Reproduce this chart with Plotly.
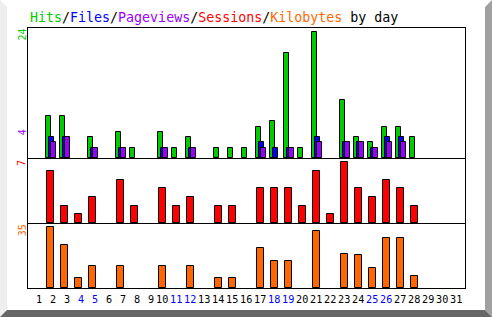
import plotly.graph_objects as go

# ---------------- data ----------------
days = list(range(1, 32))
weekend_days = [4, 5, 11, 12, 18, 19, 25, 26]
hits = [0, 8, 8, 0, 4, 0, 5, 2, 0, 5, 2, 4, 0, 2, 2, 2, 6, 7, 20, 2, 24, 0, 11, 4, 3, 6, 6, 4, 0, 0, 0]
files = [0, 4, 4, 0, 2, 0, 2, 0, 0, 2, 0, 2, 0, 0, 0, 0, 3, 2, 2, 0, 4, 0, 3, 3, 2, 4, 4, 0, 0, 0, 0]
pageviews = [0, 3, 4, 0, 2, 0, 2, 0, 0, 2, 0, 2, 0, 0, 0, 0, 2, 0, 2, 0, 3, 0, 3, 3, 2, 3, 3, 0, 0, 0, 0]
sessions = [0, 6, 2, 1, 3, 0, 5, 2, 0, 4, 2, 3, 0, 2, 2, 0, 4, 4, 4, 2, 6, 1, 7, 4, 3, 5, 4, 2, 0, 0, 0]
kilobytes = [0, 35, 24.6, 5.8, 12.5, 0, 12.5, 0, 0, 12.5, 0, 12.5, 0, 5.8, 5.8, 0,
             22.9, 15.4, 15.4, 0, 32.9, 0, 19.4, 18.9, 11.4, 28.7, 28.7, 6.7, 0, 0, 0]
max_labels = {"hits": "24", "pages": "4", "sessions": "7", "kbytes": "35"}

# ---------------- style ----------------
W, H = 492, 317
L, R, T, B = 28, 27, 28, 29
PW, PH = W - L - R, H - T - B
C_HIT, C_FILE, C_PAGE, C_SESS, C_KB = "#00cc00", "#0000ff", "#9900ff", "#ff0000", "#ff6600"
MONO = "DejaVu Sans Mono"


def X(px):
    return (px - L) / PW


def Y(py):
    return (H - B - py) / PH


def nz(v):
    return [x if x else None for x in v]


fig = go.Figure()
line = dict(color="black", width=1)
fig.add_trace(go.Bar(x=days, y=nz(hits), marker=dict(color=C_HIT, line=line),
                     width=0.36, offset=-0.51, xaxis="x", yaxis="y"))
fig.add_trace(go.Bar(x=days, y=nz(files), marker=dict(color=C_FILE, line=line),
                     width=0.36, offset=-0.30, xaxis="x", yaxis="y"))
fig.add_trace(go.Bar(x=days, y=nz(pageviews), marker=dict(color=C_PAGE, line=line),
                     width=0.36, offset=-0.157, xaxis="x", yaxis="y"))
fig.add_trace(go.Bar(x=days, y=nz(sessions), marker=dict(color=C_SESS, line=line),
                     width=0.5, offset=-0.44, xaxis="x2", yaxis="y2"))
fig.add_trace(go.Bar(x=days, y=nz(kilobytes), marker=dict(color=C_KB, line=line),
                     width=0.5, offset=-0.44, xaxis="x3", yaxis="y3"))

xr = [0.5 - 4 / 14, 0.5 - 4 / 14 + PW / 14]
tickvals = [d if d < 10 else d - 0.2 for d in days]
ticktext = [f'<span style="color:#0000ff">{d}</span>' if d in weekend_days else str(d) for d in days]

base = dict(showline=True, linecolor="black", linewidth=1, showgrid=False, zeroline=False,
            ticks="", automargin=False)
fig.update_layout(
    width=W, height=H, margin=dict(l=L, r=R, t=T, b=B, autoexpand=False),
    paper_bgcolor="white", plot_bgcolor="white", showlegend=False,
    barmode="overlay", bargap=0,
    xaxis=dict(range=xr, domain=[0, 1], anchor="y", showticklabels=False, mirror=True, **base),
    xaxis2=dict(range=xr, domain=[0, 1], anchor="y2", showticklabels=False, mirror=False, **base),
    xaxis3=dict(range=xr, domain=[0, 1], anchor="y3", tickvals=tickvals, ticktext=ticktext,
                tickangle=0, mirror=False, ticklabelstandoff=2,
                tickfont=dict(family=MONO, size=10.2, color="black"), **base),
    yaxis=dict(range=[0, 24.76], domain=[0.5, 1], anchor="x", showticklabels=False, mirror=True, **base),
    yaxis2=dict(range=[0, 7.5], domain=[0.25, 0.5], anchor="x2", showticklabels=False, mirror=True, **base),
    yaxis3=dict(range=[0, 37.5], domain=[0, 0.25], anchor="x3", showticklabels=False, mirror=True, **base),
)

title = (f'<span style="color:{C_HIT}">Hits</span>/<span style="color:{C_FILE}">Files</span>/'
         f'<span style="color:{C_PAGE}">Pageviews</span>/<span style="color:{C_SESS}">Sessions</span>/'
         f'<span style="color:{C_KB}">Kilobytes</span> by day')
ann = [dict(text=title, x=X(27.5), y=Y(17.5), xanchor="left", yanchor="middle",
            font=dict(family=MONO, size=13.3, color="black"))]
for txt, col, cx, cy in [(max_labels["hits"], C_HIT, 22, 34.5), (max_labels["pages"], C_PAGE, 22.7, 132.5),
                         (max_labels["sessions"], C_SESS, 22, 163), (max_labels["kbytes"], C_KB, 22.8, 230.5)]:
    ann.append(dict(text=txt, x=X(cx), y=Y(cy), xanchor="center", yanchor="middle", textangle=-90,
                    font=dict(family=MONO, size=10, color=col)))
for a in ann:
    a.update(xref="paper", yref="paper", showarrow=False)
fig.update_layout(annotations=ann)


def poly(pts):
    return "M " + " L ".join(f"{X(px)},{Y(py)}" for px, py in pts) + " Z"


shapes = [
    dict(type="path", path=poly([(0, 0), (7, 7), (7, 310), (0, 317)]), fillcolor="#eeeeee", line=dict(width=0)),
    dict(type="path", path=poly([(485, 7), (492, 0), (492, 317), (485, 310)]), fillcolor="#a0a0a0", line=dict(width=0)),
    dict(type="path", path=poly([(0, 317), (7, 310), (485, 310), (492, 317)]), fillcolor="#666666", line=dict(width=0)),
]
for s in shapes:
    s.update(xref="paper", yref="paper", layer="above")
fig.update_layout(shapes=shapes)

fig.write_html("out.html")
